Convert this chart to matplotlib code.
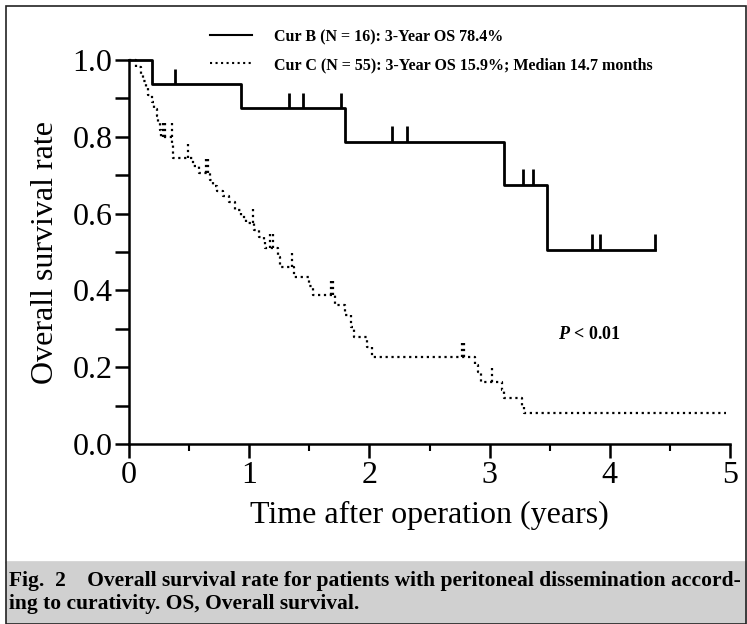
import numpy as np
import matplotlib
matplotlib.use('Agg')
from matplotlib import pyplot as plt
from matplotlib.lines import Line2D
from matplotlib.patches import Rectangle

plt.rcParams['font.family'] = ['Liberation Serif', 'DejaVu Serif']
plt.rcParams['mathtext.fontset'] = 'custom'
plt.rcParams['mathtext.it'] = 'Liberation Serif:italic:bold'

# Cur B (N = 16): drop times / survival after drop, censor times
b_event_t = [0.19, 0.93, 1.80, 3.12, 3.48]
b_event_s = [0.9375, 0.875, 0.7875, 0.675, 0.506]
b_end_t = 4.38
b_cens_t = [0.38, 1.33, 1.45, 1.76, 2.19, 2.31, 3.28, 3.36, 3.85, 3.92, 4.38]

# Cur C (N = 55)
c_event_t = [0.06, 0.10, 0.12, 0.14, 0.16, 0.19, 0.21, 0.23, 0.245, 0.26, 0.27,
             0.36, 0.365, 0.37, 0.53, 0.58, 0.67, 0.70, 0.73, 0.78, 0.83, 0.88, 0.93, 0.97,
             1.04, 1.08, 1.12, 1.13, 1.24, 1.26, 1.37, 1.50, 1.53, 1.71, 1.80, 1.85, 1.87,
             1.98, 2.02, 2.88, 2.90, 2.93, 3.10, 3.12, 3.27, 3.29]
c_event_s = [0.982, 0.964, 0.945, 0.927, 0.909, 0.891, 0.873, 0.855, 0.836, 0.818, 0.800,
             0.781, 0.763, 0.744, 0.725, 0.705, 0.687, 0.672, 0.658, 0.645, 0.630, 0.610, 0.592, 0.575,
             0.557, 0.540, 0.525, 0.510, 0.488, 0.462, 0.436, 0.412, 0.388, 0.362, 0.336, 0.305, 0.279,
             0.253, 0.227, 0.205, 0.188, 0.162, 0.140, 0.119, 0.100, 0.081]
c_end_t = 4.97
c_cens_t = [0.28, 0.30, 0.355, 0.49, 0.64, 0.66, 1.03, 1.17, 1.20, 1.36, 1.68, 1.70,
            2.77, 2.79, 3.02]

labels = ['Cur B (N = 16): 3-Year OS 78.4%',
          'Cur C (N = 55): 3-Year OS 15.9%; Median 14.7 months']
caption = ['Fig.  2    Overall survival rate for patients with peritoneal dissemination accord-',
           'ing to curativity. OS, Overall survival.']


def km_steps(ev_t, ev_s, end_t):
    t = np.r_[0.0, ev_t, end_t]
    s = np.r_[1.0, ev_s, ev_s[-1]]
    return t, s


def level_at(ev_t, ev_s, t):
    idx = np.searchsorted(ev_t, t, side='right')
    return np.r_[1.0, ev_s][idx]


W, H = 747, 624
fig = plt.figure(figsize=(W / 100, H / 100), dpi=100)

# frame and caption band (band_top in pixels from the top)
band_top = 562
fig.patches.append(Rectangle((6 / W, 0), 1 - 6 / W, (H - band_top) / H, transform=fig.transFigure,
                             facecolor='#d0d0d0', edgecolor='none', zorder=-1))
fig.patches.append(Rectangle((6 / W, 0), 1 - 7 / W, 1 - 6 / H, transform=fig.transFigure,
                             facecolor='none', edgecolor='#222222', lw=1.2, zorder=-1))
fig.lines.append(Line2D([6 / W, 1], [(H - band_top) / H] * 2, transform=fig.transFigure,
                        color='#333333', lw=1.0, zorder=-1))

ax = fig.add_axes([129 / W, 1 - 444 / H, 601 / W, 384 / H])
ax.patch.set_alpha(0)

tb, sb = km_steps(b_event_t, b_event_s, b_end_t)
ax.step(tb, sb, where='post', color='black', lw=2.0, clip_on=False)
lb = level_at(b_event_t, b_event_s, b_cens_t)
ax.vlines(b_cens_t, lb, lb + 0.04, color='black', lw=2.0, clip_on=False)

tc, sc = km_steps(c_event_t, c_event_s, c_end_t)
ax.step(tc, sc, where='post', color='black', lw=1.6, ls=':', clip_on=False)
lc = level_at(c_event_t, c_event_s, c_cens_t)
ax.vlines(c_cens_t, lc, lc + 0.04, color='black', lw=1.6, linestyles=':', clip_on=False)

ax.set_xlim(0, 5)
ax.set_ylim(0, 1)
ax.set_xticks(range(6))
ax.set_xticks(np.arange(0.5, 5, 1.0), minor=True)
ax.set_yticks(np.arange(0, 1.01, 0.2))
ax.set_yticks(np.arange(0.1, 1.0, 0.2), minor=True)
ax.set_yticklabels(['%.1f' % v for v in np.arange(0, 1.01, 0.2)])
for s in ['top', 'right']:
    ax.spines[s].set_visible(False)
for s in ['left', 'bottom']:
    ax.spines[s].set_linewidth(1.8)
ax.tick_params(which='major', direction='out', length=10, width=1.8, labelsize=23, pad=2)
ax.tick_params(axis='y', which='minor', direction='out', length=10, width=1.8)
ax.tick_params(axis='x', which='minor', direction='out', length=5, width=1.5)

ax.set_ylabel('Overall survival rate', fontsize=23, labelpad=9)
ax.set_xlabel('Time after operation (years)', fontsize=23, labelpad=8)

ax.text(3.57, 0.284, r'$P$ < 0.01', fontsize=13, fontweight='bold', va='center')

handles = [Line2D([], [], color='black', lw=1.5),
           Line2D([], [], color='black', lw=1.5, ls=':')]
fig.legend(handles, labels, loc='upper left', bbox_to_anchor=(210 / W, 1 - 29 / H),
           frameon=False, prop={'weight': 'bold', 'size': 11.5}, handlelength=2.6,
           handletextpad=1.4, labelspacing=0.75, borderpad=0, borderaxespad=0)

fig.text(9 / W, 1 - 581 / H, caption[0], fontsize=15.5, fontweight='bold', va='center')
fig.text(9 / W, 1 - 604 / H, caption[1], fontsize=15.5, fontweight='bold', va='center')

fig.savefig('out.png', dpi=100)
